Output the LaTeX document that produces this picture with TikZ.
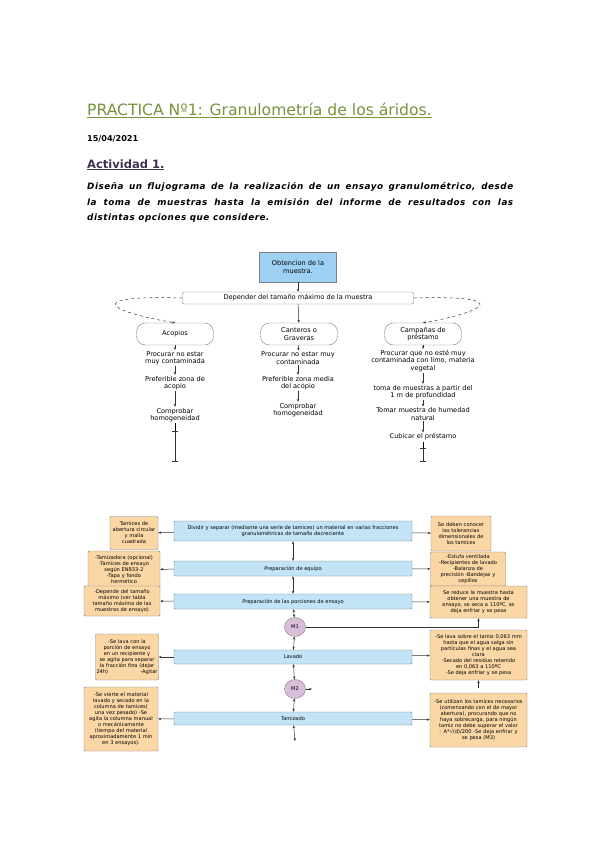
\documentclass[tikz,border=0pt]{standalone}
\usepackage{fontspec}
\setmainfont{DejaVu Sans}
\usepackage{tikz}
\usetikzlibrary{arrows,arrows.meta,positioning,shapes,calc}
\definecolor{titgreen}{HTML}{77933C}
\definecolor{actpurple}{HTML}{403152}
\definecolor{obtblue}{HTML}{9DD0F2}
\definecolor{boxblue}{HTML}{C3E4F7}
\definecolor{boxorange}{HTML}{FCD7A6}
\definecolor{boxpurple}{HTML}{D8BED9}
\definecolor{boxline}{HTML}{7F7F7F}
\tikzset{%
	upper/.style={font=\fontsize{6.6}{7.4}\selectfont,align=center,inner sep=1pt},
	lower/.style={font=\fontsize{5.1}{6}\selectfont,align=center,inner sep=1pt},
	obtbox/.style={upper,draw=boxline,fill=obtblue,minimum width=77pt,minimum height=30pt},
	depbox/.style={upper,draw=boxline,rounded corners=2pt,minimum width=231pt,minimum height=12pt},
	stadbox/.style={upper,draw=boxline,rounded corners=9pt,minimum width=77pt,minimum height=22pt},
	blubox/.style={lower,draw=boxline,fill=boxblue,minimum width=238pt,rounded corners=1pt},
	orabox/.style={lower,draw=boxline,fill=boxorange,rounded corners=1pt},
	mbox/.style={lower,draw=boxline,fill=boxpurple,ellipse,minimum width=21pt,minimum height=19pt},
	arr/.style={-{Stealth[length=3pt,width=2.4pt]},black!80,line width=.5pt},
	darr/.style={{Stealth[length=3pt,width=2.4pt]}-{Stealth[length=3pt,width=2.4pt]},black!80,line width=.5pt},
	bararr/.style={{Bar[width=6pt]}-{Bar[width=6pt]},black!80,line width=.5pt}
}
\begin{document}
\begin{tikzpicture}[x=1pt,y=-1pt]
\useasboundingbox[fill=white] (0,0) rectangle (600,848);
% encabezado
\node[anchor=base west,inner sep=0,text=titgreen,font=\fontsize{15.6}{17}\selectfont] (tit) at (87,116) {\underline{PRACTICA Nº1: Granulometría de los áridos.}};
\node[anchor=base west,inner sep=0,font=\fontsize{8.1}{9}\selectfont\bfseries] (fecha) at (87,141) {15/04/2021};
\node[anchor=base west,inner sep=0,text=actpurple,font=\fontsize{11.5}{13}\selectfont\bfseries] (act) at (87,168) {\underline{Actividad 1.}};
\node[anchor=north west,inner sep=0,text width=426pt,align=justify,font=\fontsize{8.8}{15.5}\selectfont\bfseries\itshape\addfontfeatures{LetterSpace=6}] (enun) at (87,182.5)
{Diseña un flujograma de la realización de un ensayo granulométrico, desde\linebreak la toma de muestras hasta la emisión del informe de resultados con las\linebreak distintas opciones que considere.};
% toma de muestras
\node[obtbox] (obt) at (298,267) {Obtencion de la\\muestra.};
\node[depbox] (dep) at (298,298) {Depender del tamaño máximo de la muestra};
\node[stadbox] (aco) at (175,334) {Acopios};
\node[stadbox] (can) at (299,334) {Canteros o\\Graveras};
\node[stadbox] (cam) at (423,334) {Campañas de\\préstamo};
\draw[arr] (obt) -- (dep);
\draw[arr] (dep) -- (can);
\draw[arr,dashed] (dep.west) .. controls (80,295) and (110,312) .. (aco.north);
\draw[arr,dashed] (dep.east) .. controls (515,295) and (485,312) .. (cam.north);
% acopios
\node[upper] (aco1) at (175,358) {Procurar no estar\\muy contaminada};
\node[upper] (aco2) at (175,383) {Preferible zona de\\acopio};
\node[upper] (aco3) at (175,415) {Comprobar\\homogeneidad};
\coordinate (acofin) at (175,461);
\draw[arr] (aco) -- (aco1);
\draw[arr] (aco1) -- (aco2);
\draw[arr] (aco2) -- (aco3);
\draw[bararr] ($(aco3.south)+(0,8)$) -- (acofin);
\draw[line width=.5pt] (aco3.south) -- ($(aco3.south)+(0,8)$);
% canteros
\node[upper] (can1) at (298,358) {Procurar no estar muy\\contaminada};
\node[upper] (can2) at (298,383) {Preferible zona media\\del acopio};
\node[upper] (can3) at (298,410) {Comprobar\\homogeneidad};
\draw[arr] (can) -- (can1);
\draw[arr] (can1) -- (can2);
\draw[arr] (can2) -- (can3);
% prestamos
\node[upper] (cam1) at (423,361) {Procurar que no esté muy\\contaminada con limo, materia\\vegetal};
\node[upper] (cam2) at (423,392) {toma de muestras a partir del\\1 m de profundidad};
\node[upper] (cam3) at (423,414) {Tomar muestra de humedad\\natural};
\node[upper] (cam4) at (423,437) {Cubicar el préstamo};
\coordinate (camfin) at (423,461);
\draw[arr] (cam) -- (cam1);
\draw[arr] (cam1) -- (cam2);
\draw[arr] (cam2) -- (cam3);
\draw[arr] (cam3) -- (cam4);
\draw[bararr] ($(cam4.south)+(0,6)$) -- (camfin);
\draw[line width=.5pt] (cam4.south) -- ($(cam4.south)+(0,6)$);
% ensayo
\node[blubox,minimum height=20pt] (div) at (293,531) {Dividir y separar (mediante una serie de tamices) un material en varias fracciones\\granulométricas de tamaño decreciente};
\node[blubox,minimum height=15pt] (equ) at (293,568.5) {Preparación de equipo};
\node[blubox,minimum height=15pt] (por) at (293,601.5) {Preparación de las porciones de ensayo};
\node[mbox] (m1) at (295,627) {M1};
\node[blubox,minimum height=14pt] (lav) at (293,657) {Lavado};
\node[mbox] (m2) at (295,689) {M2};
\node[blubox,minimum height=13pt] (tam) at (293,718.5) {Tamizado};
\coordinate (tamfin) at (295,741);
\draw[darr] (div) -- (equ);
\draw[darr] (equ) -- (por);
\draw[darr] (por) -- (m1);
\draw[darr] (m1) -- (lav);
\draw[darr] (lav) -- (m2);
\draw[darr] (m2) -- (tam);
\draw[darr] (tam) -- (tamfin);
% notas izquierda
\node[orabox,text width=46pt,minimum height=33pt] (izq1) at (134,533) {Tamices de\\abertura circular\\y malla\\cuadrada};
\node[orabox,text width=70pt,minimum height=37pt] (izq2) at (124,569.5) {-Tamizadora (opcional)\\-Tamices de ensayo\\según EN933-2\\-Tapa y fondo\\hermético};
\node[orabox,text width=74pt,minimum height=30pt] (izq3) at (122,601) {-Depende del tamaño\\máximo (ver tabla\\tamaño máximo de las\\muestras de ensayo)};
\node[orabox,text width=61pt,minimum height=46pt] (izq4) at (127,657) {-Se lava con la\\porción de ensayo\\en un recipiente y\\se agita para separar\\la fracción fina (dejar\\24h) \hfill -Agitar};
\node[orabox,text width=72pt,minimum height=64pt] (izq5) at (121,719) {-Se vierte el material\\lavado y secado en la\\columna de tamices(\\una vez pesado) -Se\\agita la columna manual\\o mecánicamente\\(tiempo del material\\aproximadamente 1 min\\en 3 ensayos).};
\draw[arr] (div) -- (izq1);
\draw[arr] (equ) -- (izq2);
\draw[arr] (por) -- (izq3);
\draw[arr] (lav) -- (izq4);
\draw[arr] (tam) -- (izq5);
% notas derecha
\node[orabox,text width=58pt,minimum height=35pt] (der1) at (461,533.5) {Se deben conocer\\las tolerancias\\dimensionales de\\los tamices};
\node[orabox,text width=73pt,minimum height=34pt] (der2) at (468,569) {-Estufa ventilada\\-Recipientes de lavado\\-Balanza de\\precisión -Bandejas y\\cepillos};
\node[orabox,text width=95pt,minimum height=32pt] (der3) at (478.5,602) {Se reduce la muestra hasta\\obtener una muestra de\\ensayo, se seca a 110ºC, se\\deja enfriar y se pesa};
\node[orabox,text width=95pt,minimum height=50pt] (der4) at (478.5,655) {-Se lava sobre el tamiz 0,063 mm\\hasta que el agua salga sin\\partículas finas y el agua sea\\clara\\-Secado del residuo retenido\\en 0,063 a 110ºC\\-Se deja enfriar y se pesa};
\node[orabox,text width=95pt,minimum height=54pt] (der5) at (478.5,720) {-Se utilizan los tamices necesarios\\(comenzando con el de mayor\\abertura), procurando que no\\haya sobrecarga, para ningún\\tamiz no debe superar el valor\\: A*\textsurd(d)/200 -Se deja enfriar y\\se pesa (M3)};
\draw[arr] (div) -- (der1);
\draw[arr] (equ) -- (der2);
\draw[arr] (por) -- (der3);
\draw[arr] (lav) -- (der4);
\draw[arr] (tam) -- (der5);
\draw[arr] (m1) -| (der3.south);
\coordinate (m2fin) at (312,689);
\coordinate (der4fin) at (478.5,688);
\draw[arr] (m2) -- (m2fin);
\draw[arr] (der4fin) -- (der4.south);
\end{tikzpicture}
\end{document}
